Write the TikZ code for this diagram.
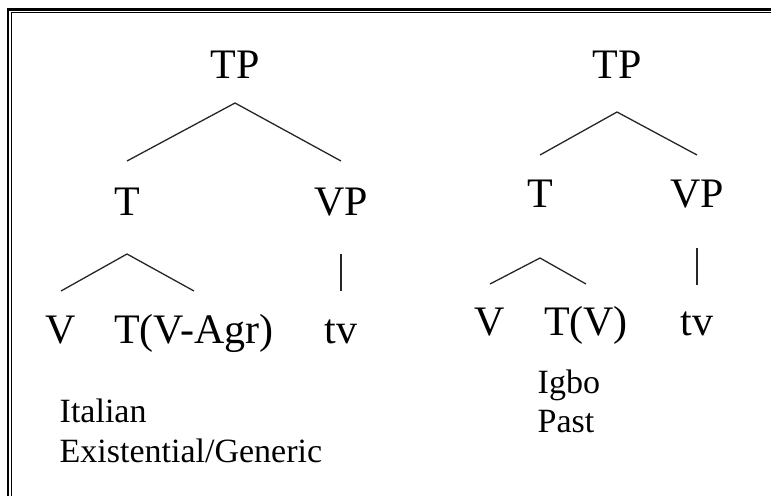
\documentclass[tikz,border=0pt]{standalone}
\usepackage{fontspec}
\setmainfont{Liberation Serif}
\begin{document}
\begin{tikzpicture}[x=1pt,y=-1pt,
  cat/.style={font=\fontsize{42}{48}\selectfont, inner sep=0pt, outer sep=0pt,
              text height=28pt, text depth=0pt, anchor=base},
  note/.style={font=\fontsize{34}{40}\selectfont, inner sep=0pt, anchor=base west},
  branch/.style={line width=1.3pt, black!85},
  frameout/.style={line width=2.4pt, black},
  framein/.style={line width=1.3pt, black}]
  \useasboundingbox (0,0) rectangle (771,496);

  % double frame along the left and top edges
  \draw[frameout] (8,496) -- (8,9.3) -- (771,9.3);
  \draw[framein] (11.6,496) -- (11.6,12.8) -- (771,12.8);

  % left tree
  \node[cat] (lTP)  at (235,78)  {TP};
  \node[cat] (lT)   at (127,215) {T};
  \node[cat] (lVP)  at (341,215) {VP};
  \node[cat] (lV)   at (61,343)  {V};
  \node[cat] (lTV)  at (194,343) {T(V-Agr)};
  \node[cat] (ltv)  at (341,343) {tv};

  \draw[branch] ([yshift=26pt]lT.north) -- ([yshift=-25pt]lTP.south) -- ([yshift=26pt]lVP.north);
  \draw[branch] ([yshift=24pt]lV.north) -- ([yshift=-39pt]lT.south) -- ([yshift=24pt]lTV.north);
  \draw[branch] ([yshift=-39pt]lVP.south) -- ([yshift=24pt]ltv.north);

  \node[note] (ita1) at (59.5,422) {Italian};
  \node[note] (ita2) at (59.5,462) {Existential/Generic};

  % right tree
  \node[cat] (rTP)  at (617,78)  {TP};
  \node[cat] (rT)   at (540,207) {T};
  \node[cat] (rVP)  at (697,207) {VP};
  \node[cat] (rV)   at (490,335) {V};
  \node[cat] (rTV)  at (586,335) {T(V)};
  \node[cat] (rtv)  at (697,335) {tv};

  \draw[branch] ([yshift=24pt]rT.north) -- ([yshift=-34pt]rTP.south) -- ([yshift=24pt]rVP.north);
  \draw[branch] ([yshift=23pt]rV.north) -- ([yshift=-51pt]rT.south) -- ([yshift=23pt]rTV.north);
  \draw[branch] ([yshift=-41pt]rVP.south) -- ([yshift=22pt]rtv.north);

  \node[note] (igb1) at (537.5,393) {Igbo};
  \node[note] (igb2) at (537.5,432) {Past};
\end{tikzpicture}
\end{document}
